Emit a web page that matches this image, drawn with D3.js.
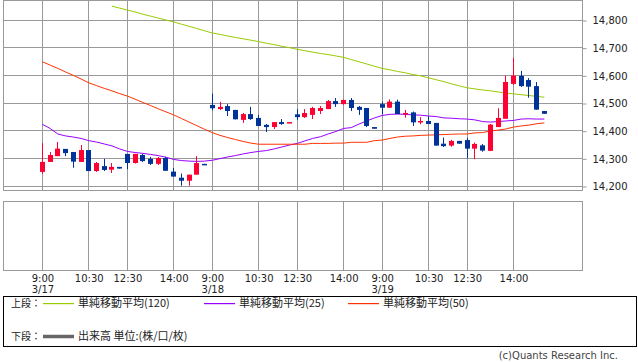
<!DOCTYPE html>
<html>
<head>
<meta charset="utf-8">
<script src="https://cdn.jsdelivr.net/npm/d3@7"></script>
<style>
    body { margin: 0; background: #fff; }
    svg { display: block; font-family: "DejaVu Sans", sans-serif; }
</style>
</head>
<body>
<script>

// 15 min candles, 22 slots per day (3/17, 3/18, 3/19)
const opens  = [14251,14287,14308,14334,14323,14287,14330,14254,14272,14259,14269,14316,14283,14312,14298,14280,14301,14252,14230,14219,14241,14280,
                14493,14478,14489,14475,14439,14460,14446,14421,14413,14431,14429,14459,14449,14457,14471,14478,14507,14496,14511,14486,14482,14413,
                14496,14483,14505,14460,14466,14434,14435,14428,14353,14346,14363,14366,14335,14347,14327,14413,14443,14569,14598,14583,14561,14471];
const highs  = [14355,14323,14359,14334,14323,14348,14330,14287,14298,14283,14269,14316,14316,14316,14305,14305,14305,14265,14245,14241,14308,14280,
                14534,14504,14496,14475,14464,14486,14457,14424,14431,14442,14431,14478,14478,14486,14489,14511,14518,14512,14518,14489,14482,14413,
                14505,14513,14512,14475,14469,14449,14452,14428,14375,14367,14363,14374,14357,14352,14424,14481,14599,14663,14616,14590,14576,14471];
const lows   = [14244,14287,14308,14308,14266,14287,14254,14251,14254,14247,14263,14261,14281,14287,14276,14276,14255,14234,14201,14201,14241,14277,
                14474,14475,14453,14441,14428,14439,14417,14395,14406,14421,14429,14439,14446,14442,14460,14478,14486,14494,14471,14457,14413,14407,
                14459,14482,14460,14447,14417,14423,14424,14346,14341,14342,14353,14300,14297,14324,14326,14413,14443,14565,14558,14519,14476,14461];
const closes = [14287,14312,14335,14319,14288,14330,14254,14283,14258,14269,14263,14283,14316,14290,14280,14301,14255,14234,14219,14241,14283,14277,
                14481,14486,14471,14441,14460,14442,14417,14413,14431,14424,14431,14449,14464,14482,14482,14507,14496,14511,14482,14475,14417,14407,
                14483,14505,14460,14464,14430,14435,14424,14346,14344,14363,14353,14335,14352,14328,14422,14446,14576,14599,14561,14559,14476,14461];

// moving averages, one value per slot
const ma25 = [14423,14408,14388,14381,14377,14372,14364,14359,14352,14345,14334,14325,14321,14318,14314,14310,14304,14296,14292,14290,14289,14290,
              14293,14299,14305,14310,14316,14321,14325,14328,14334,14341,14348,14354,14363,14372,14378,14388,14397,14408,14411,14424,14435,14446,
              14455,14459,14460,14459,14457,14456,14453,14451,14446,14445,14443,14442,14439,14433,14431,14433,14435,14437,14442,14443,14442,14442];
const ma50 = [14649,14637,14625,14612,14600,14587,14573,14563,14553,14544,14534,14525,14514,14502,14491,14479,14468,14457,14444,14431,14418,14405,
              14393,14383,14375,14368,14361,14355,14351,14351,14351,14351,14351,14351,14351,14354,14354,14354,14355,14355,14358,14358,14358,14364,
              14366,14372,14377,14380,14381,14383,14384,14385,14386,14387,14388,14388,14392,14393,14399,14402,14406,14413,14417,14420,14425,14428];
const ma120_start = 9;
const ma120 = [14850,14843,14836,14829,14821,14814,14807,14800,14793,14785,14777,14769,14761,
               14753,14748,14742,14737,14732,14727,14722,14716,14711,14705,14700,14694,14689,14684,14679,14675,14670,14665,14657,14649,14641,14633,
               14625,14620,14614,14609,14603,14598,14591,14584,14577,14569,14562,14555,14551,14547,14544,14540,14536,14533,14530,14527,14524,14521];

const y_ticks = [14200,14300,14400,14500,14600,14700,14800];
const time_slots = [0,6,11,17,22,28,33,39,44,50,55,61];
const time_labels = ["9:00","10:30","12:30","14:00","9:00","10:30","12:30","14:00","9:00","10:30","12:30","14:00"];
const date_slots = [0,22,44];
const date_labels = ["3/17","3/18","3/19"];

const legend_items = [
    {label: "単純移動平均(120)", color: "#99cc00"},
    {label: "単純移動平均(25)",  color: "#9900ff"},
    {label: "単純移動平均(50)",  color: "#ff3300"}
];

const up_color = "#ff0033";
const down_color = "#003399";
const grid_color = "#999999";

let svg_w = 638;
let svg_h = 362;
let main_top = 0.5, main_bottom = 190.5;
let vol_top = 201.5, vol_bottom = 270.5;
let left_x = 3.5, right_x = 582.5;

let svg = d3.select("body").append("svg")
    .attr("width", svg_w)
    .attr("height", svg_h);

let x_scale = d3.scaleLinear().domain([-5.1, 70]).range([3, 583]);
let y_scale = d3.scaleLinear().domain([14200, 14800]).range([186, 20]);
const crisp = v => Math.floor(v) + 0.5;

// grid - main panel
let grid = svg.append("g").attr("stroke", grid_color).attr("stroke-width", 1);
grid.selectAll(".hgrid").data(y_ticks).enter().append("line")
    .attr("x1", left_x).attr("x2", right_x)
    .attr("y1", d => crisp(y_scale(d))).attr("y2", d => crisp(y_scale(d)));
grid.selectAll(".vgrid").data(time_slots).enter().append("line")
    .attr("x1", d => crisp(x_scale(d))).attr("x2", d => crisp(x_scale(d)))
    .attr("y1", main_top).attr("y2", main_bottom);
grid.selectAll(".vgrid2").data(time_slots).enter().append("line")
    .attr("x1", d => crisp(x_scale(d))).attr("x2", d => crisp(x_scale(d)))
    .attr("y1", vol_top).attr("y2", vol_bottom);
grid.append("rect")
    .attr("x", left_x).attr("y", main_top)
    .attr("width", right_x - left_x).attr("height", main_bottom - main_top)
    .attr("fill", "none");
grid.append("rect")
    .attr("x", left_x).attr("y", vol_top)
    .attr("width", right_x - left_x).attr("height", vol_bottom - vol_top)
    .attr("fill", "none");

// y axis on the right
let y_axis = d3.axisRight(y_scale).tickValues(y_ticks).tickSize(4).tickPadding(6)
    .tickFormat(d3.format(","));
let y_g = svg.append("g")
    .attr("transform", "translate(" + right_x + ",0.5)")
    .call(y_axis);
y_g.select(".domain").remove();
y_g.selectAll("line").attr("stroke", grid_color);
y_g.selectAll("text").attr("fill", "#222").style("font-size", "10px")
    .style("font-family", "'DejaVu Sans', sans-serif");

// time + date labels
let x_axis = d3.axisBottom(x_scale).tickValues(time_slots).tickSize(0).tickPadding(4)
    .tickFormat((d, i) => time_labels[i]);
let x_g = svg.append("g").attr("transform", "translate(0," + vol_bottom + ")").call(x_axis);
x_g.select(".domain").remove();

let d_axis = d3.axisBottom(x_scale).tickValues(date_slots).tickSize(0).tickPadding(15)
    .tickFormat((d, i) => date_labels[i]);
let d_g = svg.append("g").attr("transform", "translate(0," + vol_bottom + ")").call(d_axis);
d_g.select(".domain").remove();
svg.selectAll(".tick text").attr("fill", "#222").style("font-size", "10px")
    .style("font-family", "'DejaVu Sans', sans-serif");

// moving averages
let line = d3.line()
    .x(d => x_scale(d[0]))
    .y(d => y_scale(d[1]))
    .curve(d3.curveLinear);

svg.append("path")
    .datum(ma120.map((v, i) => [i + ma120_start, v]))
    .attr("fill", "none").attr("stroke", legend_items[0].color).attr("stroke-width", 1)
    .attr("d", line);
svg.append("path")
    .datum(ma25.map((v, i) => [i, v]))
    .attr("fill", "none").attr("stroke", legend_items[1].color).attr("stroke-width", 1)
    .attr("d", line);
svg.append("path")
    .datum(ma50.map((v, i) => [i, v]))
    .attr("fill", "none").attr("stroke", legend_items[2].color).attr("stroke-width", 1)
    .attr("d", line);

// candles
let candles = opens.map((o, i) => ({slot: i, o: o, h: highs[i], l: lows[i], c: closes[i]}));
let cg = svg.selectAll(".candle").data(candles).enter().append("g");
cg.append("line")
    .attr("x1", d => crisp(x_scale(d.slot))).attr("x2", d => crisp(x_scale(d.slot)))
    .attr("y1", d => y_scale(d.h)).attr("y2", d => y_scale(d.l))
    .attr("stroke", d => d.c >= d.o ? up_color : down_color)
    .attr("stroke-width", 1);
cg.append("rect")
    .attr("x", d => Math.floor(x_scale(d.slot)) - 2)
    .attr("width", 5)
    .attr("y", d => y_scale(Math.max(d.o, d.c)))
    .attr("height", d => Math.max(1.5, Math.abs(y_scale(d.o) - y_scale(d.c))))
    .attr("fill", d => d.c >= d.o ? up_color : down_color);

// legend box
let legend = svg.append("g");
legend.append("rect")
    .attr("x", 3.5).attr("y", 296.5).attr("width", 633).attr("height", 50)
    .attr("fill", "none").attr("stroke", "#000").attr("stroke-width", 1);

let cjk = "'Noto Sans CJK JP', sans-serif";
legend.append("text").attr("x", 11).attr("y", 307).text("上段：")
    .style("font-family", cjk).style("font-size", "10px").attr("fill", "#222");
legend.append("text").attr("x", 11).attr("y", 340).text("下段：")
    .style("font-family", cjk).style("font-size", "10px").attr("fill", "#222");

let legend_x = [43, 204, 348];
legend_items.forEach((item, i) => {
    legend.append("rect")
        .attr("x", legend_x[i]).attr("width", 31)
        .attr("y", 303).attr("height", 1.2)
        .attr("fill", item.color);
    legend.append("text").attr("x", legend_x[i] + 35).attr("y", 307).text(item.label)
        .style("font-family", cjk).style("font-size", "11px").attr("fill", "#222");
});
legend.append("line")
    .attr("x1", 43).attr("x2", 74).attr("y1", 336.5).attr("y2", 336.5)
    .attr("stroke", "#666").attr("stroke-width", 3.5);
legend.append("text").attr("x", 78).attr("y", 340).text("出来高 単位:(株/口/枚)")
    .style("font-family", cjk).style("font-size", "11px").attr("fill", "#222");

svg.append("text")
    .attr("x", 618).attr("y", 359)
    .attr("text-anchor", "end")
    .style("font-size", "10px")
    .attr("fill", "#444")
    .text("(c)Quants Research Inc.");

</script>
</body>
</html>
